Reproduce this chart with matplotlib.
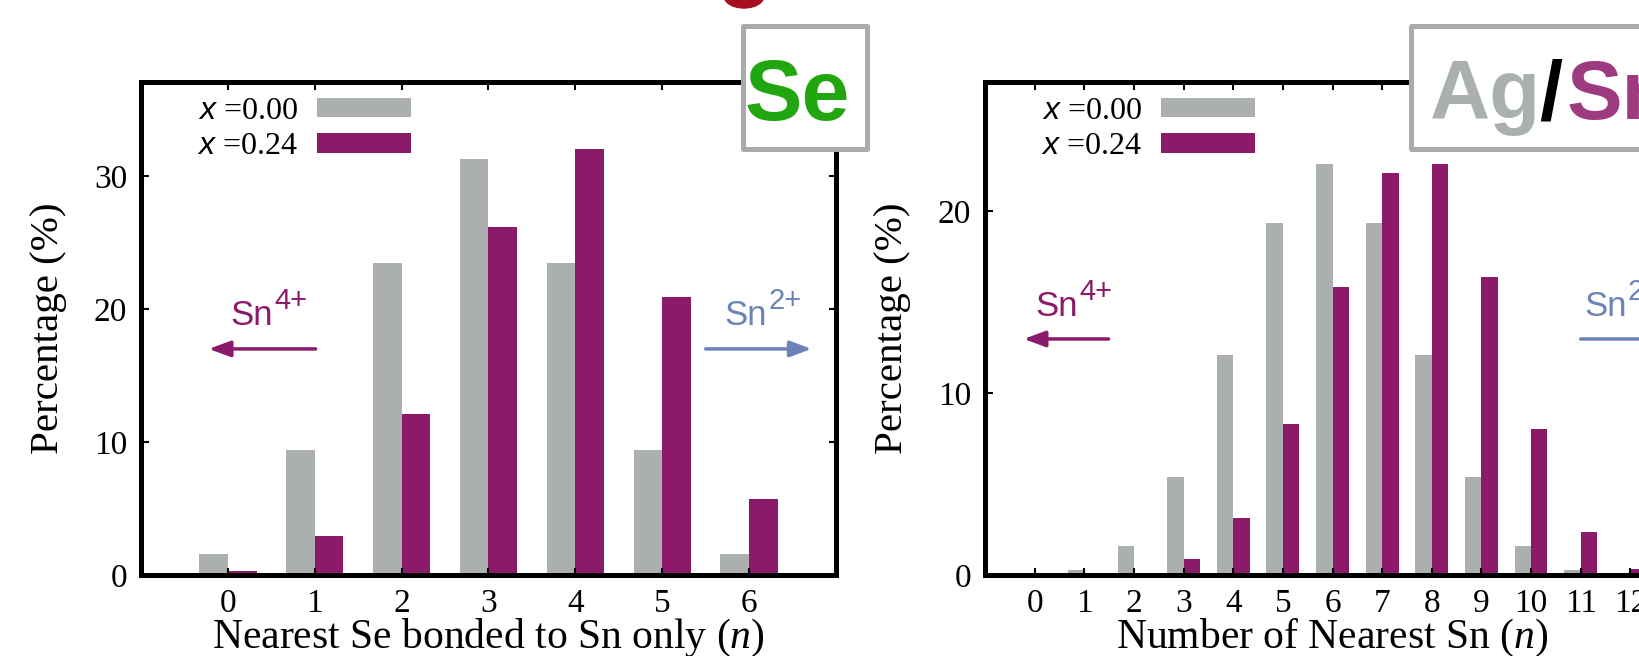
import matplotlib
matplotlib.use("Agg")
import matplotlib.pyplot as plt
from matplotlib.patches import Rectangle, Ellipse, ArrowStyle
import numpy as np

plt.rcParams['font.family'] = 'Liberation Serif'
plt.rcParams['mathtext.fontset'] = 'custom'
plt.rcParams['mathtext.rm'] = 'Liberation Serif'
plt.rcParams['mathtext.it'] = 'Liberation Serif:italic'
plt.rcParams['mathtext.sf'] = 'Liberation Sans:italic'

# Se neighbours bonded to Sn only
se_n = np.arange(7)
se_x000 = [1.56, 9.38, 23.44, 31.25, 23.44, 9.38, 1.56]
se_x024 = [0.3, 2.9, 12.1, 26.2, 32.0, 20.9, 5.7]

# nearest Sn neighbours of Ag/Sn sites
sn_n = np.arange(13)
sn_x000 = [0.02, 0.29, 1.61, 5.37, 12.08, 19.34, 22.56, 19.34, 12.08, 5.37, 1.61, 0.29, 0.02]
sn_x024 = [0.0, 0.0, 0.1, 0.86, 3.13, 8.3, 15.84, 22.1, 22.58, 16.39, 8.0, 2.35, 0.31]

series_labels = [r'$\mathsf{x}$ =0.00', r'$\mathsf{x}$ =0.24']

GREY = '#abb0af'
PURPLE = '#8c1a6a'
BLUE = '#6b83b6'

W, H = 1639, 656
fig = plt.figure(figsize=(W / 100, H / 100), dpi=100)


def fx(px):
    return px / W


def fy(py):
    return 1 - py / H


ax1 = fig.add_axes([fx(141), fy(575), 695 / W, 493 / H])
ax2 = fig.add_axes([fx(985), fy(575), 695 / W, 493 / H])

bw = 0.33


def draw_panel(ax, n, v0, v1, ymax, yticks, xlabel):
    b0 = ax.bar(n - bw, v0, width=bw, align='edge', color=GREY, zorder=1)
    b1 = ax.bar(n, v1, width=bw, align='edge', color=PURPLE, zorder=1)
    ax.set_xlim(-1, 13 if len(n) > 7 else 7)
    ax.set_ylim(0, ymax)
    ax.set_xticks(n)
    ax.set_yticks(yticks)
    ax.tick_params(direction='in', top=True, right=True, length=5.4, width=1.5,
                   labelsize=24)
    ax.tick_params(axis='x', pad=9.5)
    ax.tick_params(axis='y', pad=10)
    for s in ax.spines.values():
        s.set_linewidth(3.6)
        s.set_zorder(3)
    ax.set_ylabel('Percentage (%)', fontsize=29.5)
    ax.set_xlabel(xlabel, fontsize=30)
    ax.yaxis.set_label_coords(-0.107, 0.5)
    ax.xaxis.set_label_coords(0.5, -0.086)
    ax.legend([b0, b1], series_labels, loc='upper left', bbox_to_anchor=(0.0806, 0.970),
              markerfirst=False, frameon=False, fontsize=23, handlelength=2.93,
              handleheight=0.58, handletextpad=0.6, labelspacing=0.2,
              borderpad=0, borderaxespad=0)


def ion(ax, x, y, charge, color, tail, tip, ya):
    ax.text(x, y, 'Sn', fontsize=25, family='Liberation Sans', color=color,
            ha='left', va='baseline')
    ax.annotate(charge, xy=(x, y), xytext=(31.5, 11.8), textcoords='offset points',
                fontsize=21, family='Liberation Sans', color=color,
                ha='left', va='baseline')
    ax.annotate('', xy=(tip, ya), xytext=(tail, ya),
                arrowprops=dict(arrowstyle=ArrowStyle('-|>', head_length=0.65, head_width=0.24),
                                mutation_scale=20, lw=2.5, color=color,
                                shrinkA=0, shrinkB=0))


draw_panel(ax1, se_n, se_x000, se_x024, 37.07, [0, 10, 20, 30],
           'Nearest Se bonded to Sn only ($n$)')
draw_panel(ax2, sn_n, sn_x000, sn_x024, 27.09, [0, 10, 20],
           'Number of Nearest Sn ($n$)')

ion(ax1, 0.03, 18.8, '4+', PURPLE, 1.01, -0.22, 17.0)
ion(ax1, 5.72, 18.8, '2+', BLUE, 5.50, 6.72, 17.0)
ion(ax2, 0.02, 14.23, '4+', PURPLE, 1.49, -0.22, 12.97)
ion(ax2, 11.07, 14.23, '2+', BLUE, 11.0, 12.72, 12.97)

# element tags in the top corners
fig.add_artist(Rectangle((fx(742.5), fy(149)), (866.5 - 742.5) / W, (149 - 26.5) / H,
                         transform=fig.transFigure, facecolor='white',
                         edgecolor='#aaaaaa', lw=3.6, joinstyle='round', zorder=5))
fig.text(fx(745), fy(120), 'Se', fontsize=62, weight='bold', color='#21a60f',
         family='Liberation Sans', ha='left', va='baseline', zorder=6)

fig.add_artist(Rectangle((fx(1410.5), fy(149)), (1720 - 1410.5) / W, (149 - 26.5) / H,
                         transform=fig.transFigure, facecolor='white',
                         edgecolor='#aaaaaa', lw=3.6, joinstyle='round', zorder=5))
fig.text(fx(1430), fy(119.3), 'Ag', fontsize=60, weight='bold', color='#aab0af',
         family='Liberation Sans', ha='left', va='baseline', zorder=6)
fig.text(fx(1539), fy(119.3), '/', fontsize=60, weight='bold', color='black',
         family='Liberation Sans', ha='left', va='baseline', zorder=6)
fig.text(fx(1567), fy(119.3), 'Sn', fontsize=60, weight='bold', color='#9e3a80',
         family='Liberation Sans', ha='left', va='baseline', zorder=6)

# bottom of a red glyph peeking in from above
fig.add_artist(Ellipse((fx(744), fy(-4)), 40 / W, 24 / H, transform=fig.transFigure,
                       color='#a8101e', zorder=6))

fig.savefig('out.png', dpi=100)
